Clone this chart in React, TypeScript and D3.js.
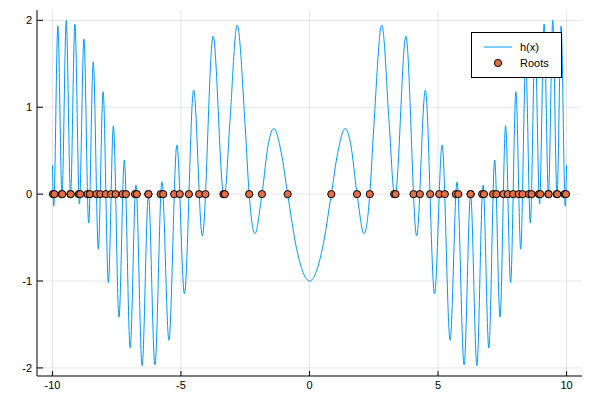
import React from "react";
import * as d3 from "d3";

// h(x) curve: turning points and crossings
const lineX = [
  -10, -9.949, -9.788, -9.628, -9.462, -9.295, -9.125, -8.949, -8.775, -8.59, -8.411, -8.215, -8.029,
  -7.823, -7.628, -7.411, -7.204, -6.975, -6.752, -6.511, -6.266, -6.013, -5.74, -5.469, -5.159,
  -4.865, -4.507, -4.169, -3.75, -3.347, -3.32, -3.293, -3.1, -2.813, -2.5, -2.347, -2.124, -1.849,
  -1.6, -1.389, -1.1, -0.849, -0.5, 0, 0.5, 0.849, 1.1, 1.389, 1.6, 1.849, 2.124, 2.347, 2.5, 2.813,
  3.1, 3.293, 3.32, 3.347, 3.75, 4.169, 4.507, 4.865, 5.159, 5.469, 5.74, 6.013, 6.266, 6.511, 6.752,
  6.975, 7.204, 7.411, 7.628, 7.823, 8.029, 8.215, 8.411, 8.59, 8.775, 8.949, 9.125, 9.295, 9.462,
  9.628, 9.788, 9.949, 10,
];
const lineY = [
  0.333, -0.138, 1.932, -0.02, 1.999, -0.008, 1.956, -0.115, 1.785, -0.332, 1.524, -0.633, 1.179,
  -1.017, 0.787, -1.416, 0.393, -1.769, 0.104, -1.974, 0.0, -1.964, 0.141, -1.682, 0.564,
  -1.147, 1.198, -0.48, 1.817, 0, -0.015, 0, 0.815, 1.946, 0.77, 0, -0.455, 0,
  0.58, 0.755, 0.48, 0, -0.63, -1, -0.63, 0, 0.48, 0.755, 0.58, 0, -0.455, 0, 0.77, 1.946,
  0.815, 0, -0.015, 0, 1.817, -0.48, 1.198, -1.147, 0.564, -1.682, 0.141, -1.964, 0.0, -1.974, 0.104,
  -1.769, 0.393, -1.416, 0.787, -1.017, 1.179, -0.633, 1.524, -0.332, 1.785, -0.115, 1.956, -0.008, 1.999,
  -0.02, 1.932, -0.138, 0.333,
];

// Roots (scatter)
const rootsX = [
  -9.976, -9.923, -9.638, -9.617, -9.302, -9.288, -8.976, -8.922, -8.638, -8.541, -8.288, -8.14,
  -7.922, -7.717, -7.541, -7.268, -7.14, -6.787, -6.717, -6.268, -6.265, -5.787, -5.692, -5.265,
  -5.047, -4.692, -4.293, -4.047, -3.347, -3.293, -2.347, -1.849, -0.849,
  0.849, 1.849, 2.347, 3.293, 3.347, 4.047, 4.293, 4.692, 5.047, 5.265, 5.692, 5.787, 6.265, 6.268,
  6.717, 6.787, 7.14, 7.268, 7.541, 7.717, 7.922, 8.14, 8.288, 8.541, 8.638, 8.922, 8.976, 9.288,
  9.302, 9.617, 9.638, 9.923, 9.976,
];

const xTicks = [-10, -5, 0, 5, 10];
const yTicks = [-2, -1, 0, 1, 2];
const seriesNames = ["h(x)", "Roots"];

const W = 600;
const H = 400;
const L = 37;
const R = 582;
const T = 10;
const B = 376;
const FONT = "'Liberation Sans', Arial, Helvetica, sans-serif";

export default function App() {
  const x = d3.scaleLinear().domain([-10.6, 10.6]).range([L, R]);
  const y = d3.scaleLinear().domain([-2.093, 2.119]).range([B, T]);

  const pts: [number, number][] = lineX.map((v, i) => [v, lineY[i]]);
  const line = d3
    .line<[number, number]>()
    .x((d) => x(d[0]))
    .y((d) => y(d[1]))
    .curve(d3.curveMonotoneX);

  return (
    <svg
      width={W}
      height={H}
      style={{ position: "absolute", left: 0, top: 0, background: "#fff" }}
      fontFamily={FONT}
    >
      <defs>
        <clipPath id="plotclip">
          <rect x={L} y={T} width={R - L} height={B - T} />
        </clipPath>
      </defs>
      <rect x={0} y={0} width={W} height={H} fill="#fff" />
      {/* grid */}
      {xTicks.map((t) => (
        <line key={"gx" + t} x1={x(t)} x2={x(t)} y1={T} y2={B} stroke="#000" strokeOpacity={0.1} strokeWidth={1} />
      ))}
      {yTicks.map((t) => (
        <line key={"gy" + t} x1={L} x2={R} y1={y(t)} y2={y(t)} stroke="#000" strokeOpacity={0.1} strokeWidth={1} />
      ))}
      {/* axes */}
      <line x1={L} x2={L} y1={T} y2={B} stroke="#000" strokeWidth={1} />
      <line x1={L} x2={R} y1={B} y2={B} stroke="#000" strokeWidth={1} />
      {xTicks.map((t) => (
        <g key={"tx" + t}>
          <line x1={x(t)} x2={x(t)} y1={B} y2={B - 5} stroke="#000" strokeWidth={1} />
          <text x={x(t)} y={B + 13} fontSize={11} textAnchor="middle" fill="#000">
            {t}
          </text>
        </g>
      ))}
      {yTicks.map((t) => (
        <g key={"ty" + t}>
          <line x1={L} x2={L + 6} y1={y(t)} y2={y(t)} stroke="#000" strokeWidth={1} />
          <text x={32} y={y(t) + 4} fontSize={11} textAnchor="end" fill="#000">
            {t}
          </text>
        </g>
      ))}
      {/* series */}
      <g clipPath="url(#plotclip)">
        <path d={line(pts) || ""} fill="none" stroke="#009AF9" strokeWidth={1} />
        {rootsX.map((r, i) => (
          <circle key={"r" + i} cx={x(r)} cy={y(0)} r={3.6} fill="#E26F46" stroke="#000" strokeWidth={1} />
        ))}
      </g>
      {/* legend */}
      <g>
        <rect x={471.5} y={32.5} width={90} height={45} fill="#fff" stroke="#000" strokeWidth={1} />
        <line x1={484} x2={512} y1={47} y2={47} stroke="#009AF9" strokeWidth={1} />
        <text x={520} y={51} fontSize={11} fill="#000">
          {seriesNames[0]}
        </text>
        <circle cx={498} cy={63} r={3.6} fill="#E26F46" stroke="#000" strokeWidth={1} />
        <text x={520} y={67} fontSize={11} fill="#000">
          {seriesNames[1]}
        </text>
      </g>
    </svg>
  );
}
